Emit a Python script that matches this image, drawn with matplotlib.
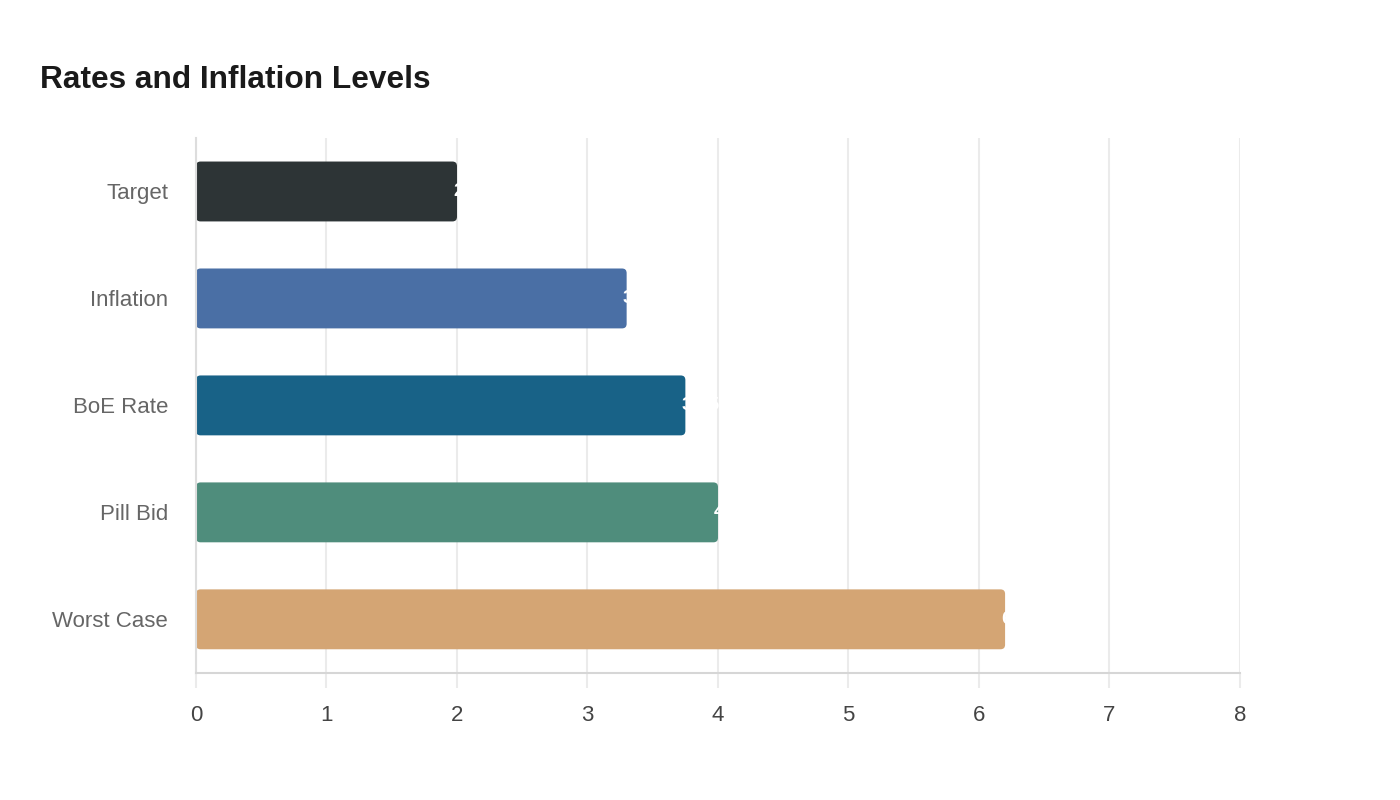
import matplotlib
matplotlib.use("Agg")
import matplotlib.pyplot as plt
from matplotlib.patches import FancyBboxPatch

plt.rcParams["font.family"] = ["Liberation Sans", "DejaVu Sans"]

# --------------------------------------
# data

categories = ["Target", "Inflation", "BoE Rate", "Pill Bid", "Worst Case"]
values = [2, 3.3, 3.75, 4, 6.2]
colors = ["#2d3436", "#4a6fa5", "#186287", "#4f8d7c", "#d4a574"]
x_ticks = [0, 1, 2, 3, 4, 5, 6, 7, 8]

# --------------------------------------

fig = plt.figure(figsize=(14, 8), dpi=100)
ax = fig.add_axes([0.14, 0.159, 0.7457, 0.6685])

bars = ax.barh(categories, values, height=0.56, color=colors, zorder=2)

# swap plain bars for rounded ones
for bar, col in zip(bars, colors):
    x, y = bar.get_x(), bar.get_y()
    w, h = bar.get_width(), bar.get_height()
    bar.set_visible(False)
    patch = FancyBboxPatch((x, y), w, h,
                           boxstyle="round,pad=0,rounding_size=0.035",
                           mutation_aspect=1.22,
                           facecolor=col, edgecolor="none", zorder=2)
    ax.add_patch(patch)
    # value label, white, starting just inside the bar end
    ax.text(w - 0.03, y + h / 2, f"{w:g}", color="white", fontsize=14,
            fontweight="bold", ha="left", va="center", zorder=3)

ax.set_xlim(0, 8)
ax.set_ylim(4.5, -0.5)
ax.set_xticks(x_ticks)
ax.set_xticklabels([str(t) for t in x_ticks])

ax.grid(axis="x", color="#ebebeb", linewidth=1.5, zorder=0)
ax.set_axisbelow(True)

for side in ["top", "right"]:
    ax.spines[side].set_visible(False)
ax.spines["left"].set_color("#dddddd")
ax.spines["bottom"].set_color("#d6d6d6")
ax.spines["left"].set_linewidth(1.5)
ax.spines["bottom"].set_linewidth(1.5)

ax.tick_params(axis="y", length=0, pad=20, labelsize=16, labelcolor="#666666")
ax.tick_params(axis="x", length=11, width=1.5, color="#ebebeb", pad=12,
               labelsize=16, labelcolor="#444444")

fig.text(40 / 1400, 1 - 80 / 800, "Rates and Inflation Levels",
         fontsize=22.8, fontweight="bold", color="#1a1a1a",
         ha="left", va="center")

fig.savefig("out.png", dpi=100, facecolor="white")
